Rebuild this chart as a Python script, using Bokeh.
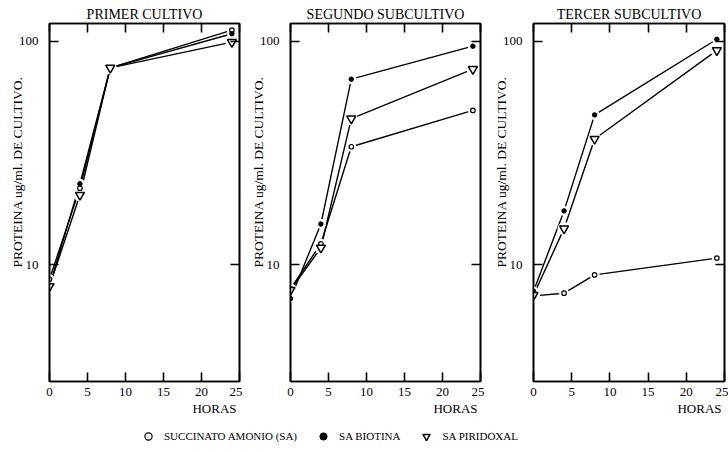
from bokeh.plotting import figure
from bokeh.models import (LinearAxis, LogAxis, FixedTicker, PrintfTickFormatter,
                          CustomJSTickFormatter, Title, Legend, LegendItem,
                          Range1d, ColumnDataSource)
from bokeh.layouts import column, row
from bokeh.embed import file_html
from bokeh.resources import INLINE

# ---------------- data ----------------
horas = [0, 4, 8, 24]
titulos = ["PRIMER CULTIVO", "SEGUNDO SUBCULTIVO", "TERCER SUBCULTIVO"]
sa = [[8.6, 22.0, 76, 112], [7.8, 12.4, 33.7, 49], [7.25, 7.45, 9.0, 10.7]]
biotina = [[8.0, 23.0, 76, 108], [7.05, 15.2, 67.6, 95], [7.6, 17.4, 46.8, 102]]
piridoxal = [[8.0, 20.5, 76, 99], [7.7, 11.9, 45, 75], [7.3, 14.5, 36.5, 91]]
series_names = ["SUCCINATO AMONIO (SA)", "SA BIOTINA", "SA PIRIDOXAL"]
x_ticks = [0, 5, 10, 15, 20, 25]
y_ticks = [10, 100]
y_label = "PROTEINA ug/ml. DE CULTIVO."
x_label = "HORAS"

FONT = "Liberation Serif"


def axis_kw(labels=True):
    kw = dict(axis_line_color="black", axis_line_width=1.6,
              major_tick_line_color="black", major_tick_line_width=1.6,
              major_tick_in=9, major_tick_out=0, minor_tick_line_color=None,
              major_label_text_font=FONT, major_label_text_color="black",
              major_label_text_font_size="13px",
              major_label_text_font_style="normal")
    if not labels:
        kw["major_label_standoff"] = 0
    return kw


def make_panel(i, left_b, right_b, frame_w):
    p = figure(frame_width=frame_w, frame_height=358,
               x_range=Range1d(0, 25), y_range=Range1d(3, 120),
               y_axis_type="log", x_axis_location=None, y_axis_location=None,
               output_backend="svg", toolbar_location=None,
               min_border_left=left_b, min_border_right=right_b,
               min_border_top=23, min_border_bottom=39, title=titulos[i])
    p.title.align = "center"
    p.title.text_font = FONT
    p.title.text_font_size = "14px"
    p.title.text_font_style = "normal"
    p.title.text_color = "black"
    p.title.standoff = 3
    p.xgrid.visible = False
    p.ygrid.visible = False
    p.outline_line_color = "black"
    p.outline_line_width = 1.6

    bottom = LinearAxis(ticker=FixedTicker(ticks=x_ticks), major_label_standoff=6,
                        **axis_kw())
    left = LogAxis(ticker=FixedTicker(ticks=y_ticks),
                   formatter=PrintfTickFormatter(format="%d"),
                   major_label_standoff=11, **axis_kw())
    top = LinearAxis(ticker=FixedTicker(ticks=x_ticks),
                     formatter=CustomJSTickFormatter(code="return ''"),
                     **axis_kw(False))
    right = LogAxis(ticker=FixedTicker(ticks=y_ticks),
                    formatter=CustomJSTickFormatter(code="return ''"),
                    **axis_kw(False))
    p.add_layout(bottom, "below")
    p.add_layout(left, "left")
    p.add_layout(top, "above")
    p.add_layout(right, "right")

    # axis titles as side-panel titles (not clipped to the frame)
    p.add_layout(Title(text=y_label, align="left", offset=114, standoff=-19,
                       text_font=FONT, text_font_size="13.5px",
                       text_font_style="normal", text_color="black"), "left")
    p.add_layout(Title(text=x_label, align="right", offset=3, standoff=0,
                       text_font=FONT, text_font_size="13px",
                       text_font_style="normal", text_color="black"), "below")

    src = ColumnDataSource(dict(x=horas, sa=sa[i], bio=biotina[i], pir=piridoxal[i]))
    for col in ["sa", "bio", "pir"]:
        p.line("x", col, source=src, line_color="black", line_width=1.4)
    for col, sz in [("sa", 10), ("bio", 10), ("pir", 13)]:
        p.scatter("x", col, source=src, marker="circle", size=sz,
                  fill_color="white", line_color=None)
    p.scatter("x", "sa", source=src, marker="circle", size=4.5,
              fill_color="white", line_color="black", line_width=1.2)
    p.scatter("x", "bio", source=src, marker="circle", size=4.5,
              fill_color="black", line_color="black")
    p.scatter("x", "pir", source=src, marker="inverted_triangle", size=9,
              fill_color="white", line_color="black", line_width=1.5)
    return p


p1 = make_panel(0, 49, 3, 190)
p2 = make_panel(1, 48, 4, 190)
p3 = make_panel(2, 49, 4, 191)

lg = figure(width=728, height=32, x_range=Range1d(0, 1), y_range=Range1d(0, 1),
            output_backend="svg", toolbar_location=None, min_border=0,
            x_axis_location=None, y_axis_location=None)
lg.outline_line_color = None
lg.xgrid.visible = False
lg.ygrid.visible = False
r1 = lg.scatter(x=[5], y=[5], marker="circle", size=4.5, fill_color="white",
                line_color="black", line_width=1.2)
r2 = lg.scatter(x=[5], y=[5], marker="circle", size=4.5, fill_color="black",
                line_color="black")
r3 = lg.scatter(x=[5], y=[5], marker="inverted_triangle", size=8,
                fill_color="white", line_color="black", line_width=1.5)
legend = Legend(items=[LegendItem(label=series_names[0], renderers=[r1]),
                       LegendItem(label=series_names[1], renderers=[r2]),
                       LegendItem(label=series_names[2], renderers=[r3])],
                orientation="horizontal", location=(139, 6),
                border_line_color=None, background_fill_alpha=0,
                label_text_font=FONT, label_text_font_size="11px",
                label_text_color="black",
                glyph_width=18, glyph_height=20, label_standoff=7,
                spacing=17, padding=0, margin=0)
lg.add_layout(legend, "center")

layout = column(row(p1, p2, p3), lg)
open("out.html", "w").write(file_html(layout, INLINE))
